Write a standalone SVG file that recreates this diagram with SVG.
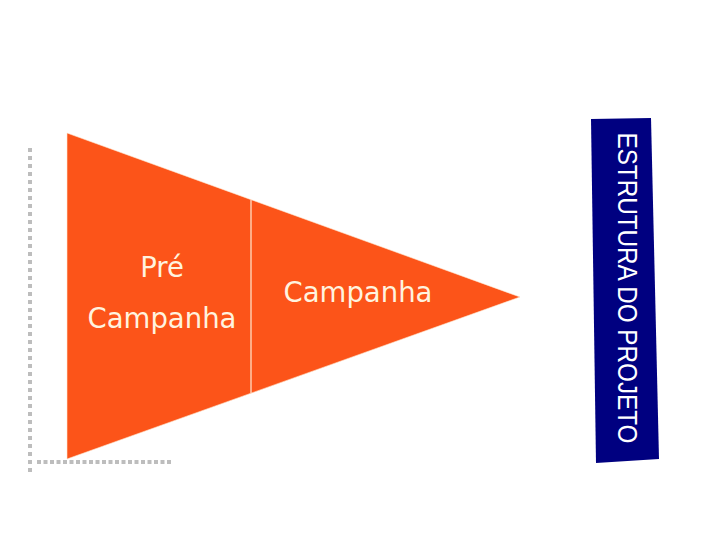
<svg xmlns="http://www.w3.org/2000/svg" width="720" height="540" viewBox="0 0 720 540">
<style>
.lbl{font-family:"DejaVu Sans",Verdana,sans-serif;font-size:27.5px;fill:#FFF3DF;text-anchor:middle}
.vt{font-family:"Liberation Sans",Arial,sans-serif;font-size:27px;fill:#FFFFFF;text-anchor:middle}
.dot{stroke:#BDBDBD;stroke-width:4;fill:none}
</style>
<rect width="720" height="540" fill="#FFFFFF"/>
<g id="frame">
<line class="dot" x1="30" y1="148" x2="30" y2="476" stroke-dasharray="4 4"/>
<line class="dot" x1="37" y1="462" x2="171" y2="462" stroke-dasharray="4 2.5"/>
</g>
<g id="funnel">
<polygon points="67,133 520,297 67,459" fill="#FC5419" stroke="#FFE8D0" stroke-width="0.6"/>
<line x1="251" y1="200" x2="251" y2="393" stroke="#FFE8D0" stroke-width="1.2"/>
</g>
<g id="pre-campanha">
<text class="lbl" x="162" y="277">Pré</text>
<text class="lbl" x="162" y="328">Campanha</text>
</g>
<g id="campanha">
<text class="lbl" x="358" y="302">Campanha</text>
</g>
<g id="estrutura">
<polygon points="591,119 651,118 659,459 596,463" fill="#000080"/>
<text class="vt" transform="translate(618,288) rotate(90)" textLength="311" lengthAdjust="spacingAndGlyphs">ESTRUTURA DO PROJETO</text>
</g>
</svg>
